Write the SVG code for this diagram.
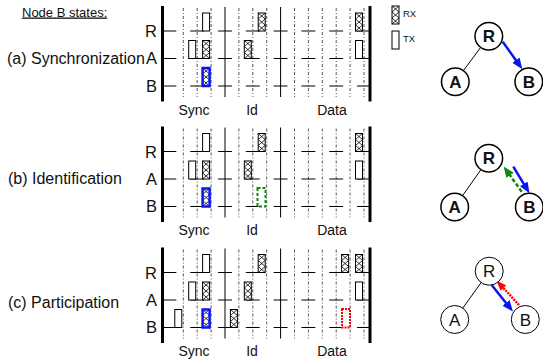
<svg xmlns="http://www.w3.org/2000/svg" width="543" height="363" viewBox="0 0 543 363">
<style>
  text { font-family: "Liberation Sans", Arial, sans-serif; fill: #111; }
  .lbl { font-size: 16px; }
  .row { font-size: 16.5px; text-anchor: end; }
  .sec { font-size: 14px; text-anchor: middle; }
  .leg { font-size: 9.5px; }
  .thick { stroke: #000; stroke-width: 3; }
  .sep { stroke: #000; stroke-width: 1; }
  .dash { stroke: #555; stroke-width: 1; stroke-dasharray: 3 2 1 2; }
  .rowline { stroke: #000; stroke-width: 1; stroke-dasharray: 13.9 13.9; }
  .box { fill: #fff; stroke: #000; stroke-width: 1; }
  .hatch { fill: none; stroke: #000; stroke-width: 0.8; }
  .node { fill: #fff; stroke: #000; stroke-width: 1.5; }
  .node2 { fill: #fff; stroke: #000; stroke-width: 1; }
  .nl { font-size: 17px; font-weight: bold; text-anchor: middle; }
  .nl2 { font-size: 17px; text-anchor: middle; }
  .edge { stroke: #000; stroke-width: 1; }
  .blue { stroke: #0a14f0; stroke-width: 2.5; fill: none; }
  .green { stroke: #118811; stroke-width: 2.5; stroke-dasharray: 4 2; fill: none; }
  .red { stroke: #ff0000; stroke-width: 2.5; stroke-dasharray: 2 1; fill: none; }
  .hl-blue { fill: none; stroke: #0a14f0; stroke-width: 2.5; }
  .hl-green { fill: #fff; stroke: #118811; stroke-width: 2; stroke-dasharray: 3 2; }
  .hl-red { fill: #fff; stroke: #ff0000; stroke-width: 2; stroke-dasharray: 2 1; }
</style>
<defs>
  <marker id="ah-blue" markerUnits="userSpaceOnUse" markerWidth="11" markerHeight="9" refX="7" refY="4.5" orient="auto">
    <path d="M0,0 L11,4.5 L0,9 z" fill="#0a14f0"/>
  </marker>
  <marker id="ah-green" markerUnits="userSpaceOnUse" markerWidth="11" markerHeight="9" refX="7" refY="4.5" orient="auto">
    <path d="M0,0 L11,4.5 L0,9 z" fill="#118811"/>
  </marker>
  <marker id="ah-red" markerUnits="userSpaceOnUse" markerWidth="10" markerHeight="8" refX="7" refY="4" orient="auto">
    <path d="M0,0 L10,4 L0,8 z" fill="#ff0000"/>
  </marker>
  <g id="tx">
    <rect class="box" x="0" y="0" width="7" height="18"/>
  </g>
  <g id="rx">
    <rect class="box" x="0" y="0" width="7" height="18"/>
    <path class="hatch" d="M0,0 L7,6 M7,0 L0,6 M0,6 L7,12 M7,6 L0,12 M0,12 L7,18 M7,12 L0,18"/>
  </g>
  <g id="grid">
    <line class="thick" x1="162.5" y1="6" x2="162.5" y2="101.5"/>
    <line class="thick" x1="370" y1="6" x2="370" y2="101.5"/>
    <line class="sep" x1="225" y1="7" x2="225" y2="97"/>
    <line class="sep" x1="280.6" y1="7" x2="280.6" y2="97"/>
    <path class="dash" d="M183.3,8V97 M197.2,8V97 M211.1,8V97 M238.9,8V97 M252.8,8V97 M266.7,8V97 M294.5,8V97 M308.4,8V97 M322.3,8V97 M336.2,8V97 M350.1,8V97 M364,8V97"/>
    <line class="rowline" x1="162.45" y1="31" x2="369" y2="31"/>
    <line class="rowline" x1="162.45" y1="58.5" x2="369" y2="58.5"/>
    <line class="rowline" x1="162.45" y1="86" x2="369" y2="86"/>
  </g>
</defs>

<text x="22" y="16.5" style="font-size:13px; text-decoration: underline;">Node B states:</text>

<g id="legend">
  <use href="#rx" x="392" y="6"/>
  <text class="leg" x="403" y="17">RX</text>
  <use href="#tx" x="392" y="31"/>
  <text class="leg" x="403" y="42">TX</text>
</g>

<!-- Panel (a) -->
<g id="panel-a">
  <text class="lbl" x="7" y="63.5">(a) Synchronization</text>
  <use href="#grid"/>
  <text class="row" x="157" y="37">R</text>
  <text class="row" x="157" y="64">A</text>
  <text class="row" x="157" y="91.5">B</text>
  <text class="sec" x="194" y="114.5">Sync</text>
  <text class="sec" x="252" y="114.5">Id</text>
  <text class="sec" x="332" y="114.5">Data</text>
  <use href="#tx" x="202.6" y="13"/>
  <use href="#tx" x="188.7" y="40.5"/>
  <use href="#rx" x="202.6" y="40.5"/>
  <use href="#rx" x="202.6" y="68"/>
  <rect class="hl-blue" x="202.6" y="68" width="7" height="18"/>
  <use href="#rx" x="258.2" y="13"/>
  <use href="#rx" x="244.3" y="40.5"/>
  <use href="#rx" x="355.5" y="13"/>
  <use href="#tx" x="355.5" y="40.5"/>
</g>

<!-- Panel (b) -->
<g id="panel-b">
  <text class="lbl" x="8" y="183.5">(b) Identification</text>
  <use href="#grid" transform="translate(0,120.5)"/>
  <g transform="translate(0,120.5)">
    <text class="row" x="157" y="37">R</text>
    <text class="row" x="157" y="64">A</text>
    <text class="row" x="157" y="91.5">B</text>
    <text class="sec" x="194" y="114.5">Sync</text>
    <text class="sec" x="252" y="114.5">Id</text>
    <text class="sec" x="332" y="114.5">Data</text>
    <use href="#tx" x="202.6" y="13"/>
    <use href="#tx" x="188.7" y="40.5"/>
    <use href="#rx" x="202.6" y="40.5"/>
    <use href="#rx" x="202.6" y="68"/>
    <rect class="hl-blue" x="202.6" y="68" width="7" height="18"/>
    <use href="#rx" x="258.2" y="13"/>
    <use href="#rx" x="244.3" y="40.5"/>
    <rect class="hl-green" x="257.5" y="67.5" width="8" height="18.5"/>
    <use href="#rx" x="355.5" y="13"/>
    <use href="#tx" x="355.5" y="40.5"/>
  </g>
</g>

<!-- Panel (c) -->
<g id="panel-c">
  <text class="lbl" x="8" y="308">(c) Participation</text>
  <use href="#grid" transform="translate(0,241.5)"/>
  <g transform="translate(0,241.5)">
    <text class="row" x="157" y="37">R</text>
    <text class="row" x="157" y="64">A</text>
    <text class="row" x="157" y="91.5">B</text>
    <text class="sec" x="194" y="114.5">Sync</text>
    <text class="sec" x="252" y="114.5">Id</text>
    <text class="sec" x="332" y="114.5">Data</text>
    <use href="#tx" x="202.6" y="13"/>
    <use href="#tx" x="188.7" y="40.5"/>
    <use href="#rx" x="202.6" y="40.5"/>
    <use href="#tx" x="174.8" y="68"/>
    <use href="#rx" x="202.6" y="68"/>
    <rect class="hl-blue" x="202.6" y="68" width="7" height="18"/>
    <use href="#rx" x="258.2" y="13"/>
    <use href="#rx" x="244.3" y="40.5"/>
    <use href="#rx" x="230.4" y="68"/>
    <use href="#rx" x="341.6" y="13"/>
    <use href="#rx" x="355.5" y="13"/>
    <use href="#tx" x="355.5" y="40.5"/>
    <rect class="hl-red" x="342" y="67.5" width="8" height="18.5"/>
  </g>
</g>

<!-- Trees -->
<g id="connectors">
  <line class="edge" x1="480.8" y1="47.2" x2="463.3" y2="70.8"/>
  <line class="blue" x1="502.7" y1="41.7" x2="520.0" y2="65.9" marker-end="url(#ah-blue)"/>
  <line class="edge" x1="481.1" y1="169.4" x2="462.4" y2="195.9"/>
  <line class="blue" x1="513.3" y1="166.7" x2="527.4" y2="189.9" marker-end="url(#ah-blue)"/>
  <line class="green" x1="521.7" y1="191.7" x2="506.0" y2="169.7" marker-end="url(#ah-green)"/>
  <line class="edge" x1="481.4" y1="282.2" x2="462.5" y2="308.5"/>
  <line class="blue" x1="491.7" y1="285" x2="510.4" y2="308.4" marker-end="url(#ah-blue)"/>
  <line class="red" x1="519" y1="305" x2="498.7" y2="282.9" marker-end="url(#ah-red)"/>
</g>

<g id="node-a-R"><circle class="node" cx="488.8" cy="36.3" r="13.8"/><text class="nl" x="488.8" y="42.3">R</text></g>
<g id="node-a-A"><circle class="node" cx="455.3" cy="81.7" r="13.8"/><text class="nl" x="455.3" y="87.7">A</text></g>
<g id="node-a-B"><circle class="node" cx="528.8" cy="81.7" r="13.8"/><text class="nl" x="528.8" y="87.7">B</text></g>

<g id="node-b-R"><circle class="node" cx="488.8" cy="158.3" r="13.8"/><text class="nl" x="488.8" y="164.3">R</text></g>
<g id="node-b-A"><circle class="node" cx="454.7" cy="207" r="13.8"/><text class="nl" x="454.7" y="213">A</text></g>
<g id="node-b-B"><circle class="node" cx="529.3" cy="207" r="13.8"/><text class="nl" x="529.3" y="213">B</text></g>

<g id="node-c-R"><circle class="node2" cx="489.2" cy="271.2" r="14"/><text class="nl2" x="489.2" y="277.3">R</text></g>
<g id="node-c-A"><circle class="node2" cx="454.7" cy="319.5" r="14"/><text class="nl2" x="454.7" y="325.6">A</text></g>
<g id="node-c-B"><circle class="node2" cx="525.3" cy="319.5" r="14"/><text class="nl2" x="525.3" y="325.6">B</text></g>
</svg>
